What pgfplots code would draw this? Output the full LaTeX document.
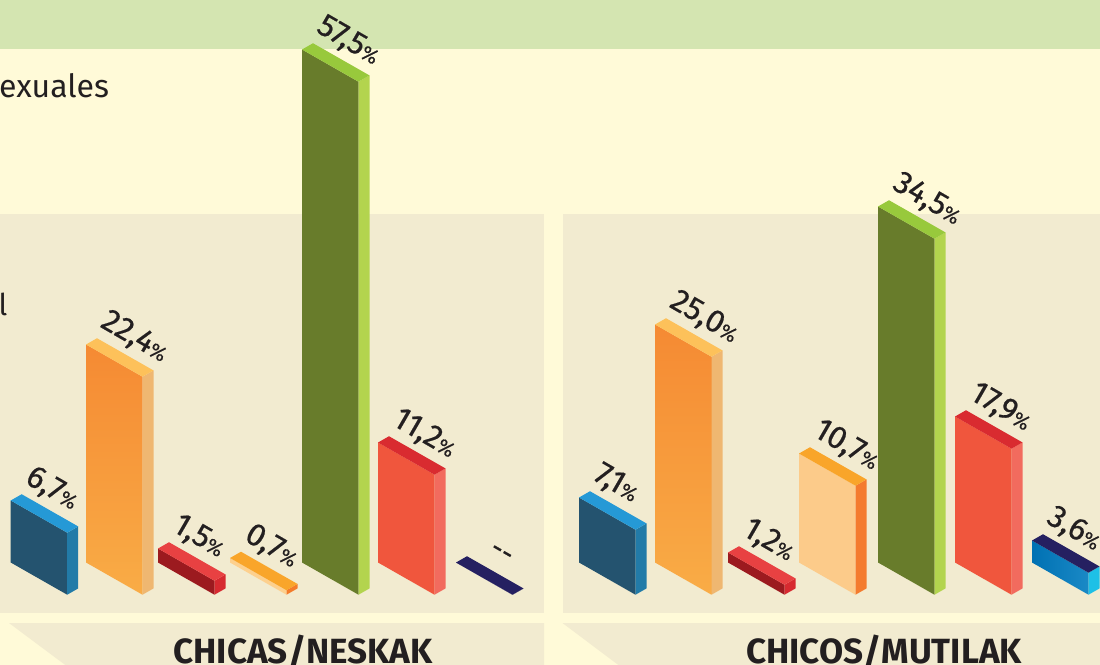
\documentclass[border=0pt]{standalone}
\usepackage{pgfplots}
\pgfplotsset{compat=1.18}
\usepackage{fontspec}
\setmainfont{Fira Sans}
\newfontfamily\labfont{Fira Sans}[FakeBold=0.5]
\definecolor{cream}{HTML}{FFFAD8}
\definecolor{band}{HTML}{D4E5B1}
\definecolor{panel}{HTML}{F2EBD0}
\definecolor{txt}{HTML}{231F20}
\definecolor{blueF}{HTML}{24536F}\definecolor{blueT}{HTML}{2599D6}\definecolor{blueS}{HTML}{227BA8}
\definecolor{orF1}{HTML}{F58A33}\definecolor{orF2}{HTML}{F9AC46}\definecolor{orT}{HTML}{FDC15A}\definecolor{orS}{HTML}{EFB771}
\definecolor{redF}{HTML}{9C1A1F}\definecolor{redT}{HTML}{E84142}\definecolor{redS}{HTML}{D72A30}
\definecolor{or2F}{HTML}{FDD08E}\definecolor{or2T}{HTML}{F9A52A}\definecolor{or2S}{HTML}{F47B2A}
\definecolor{grF}{HTML}{687C2B}\definecolor{grT}{HTML}{98C93C}\definecolor{grS}{HTML}{B3D44E}
\definecolor{rdF}{HTML}{F0563D}\definecolor{rdT}{HTML}{D92B30}\definecolor{rdS}{HTML}{F26B5E}
\definecolor{navy}{HTML}{252061}
\definecolor{ltF}{HTML}{FCCB8A}\definecolor{ltT}{HTML}{F9A52A}\definecolor{ltS}{HTML}{F47B2E}
\definecolor{btF1}{HTML}{0071B3}\definecolor{btF2}{HTML}{1A89C6}\definecolor{btT}{HTML}{252061}\definecolor{btS}{HTML}{1EC0E6}
\newcommand\pct{{\fontsize{20.5bp}{20.5bp}\selectfont\%}}
\tikzset{lab/.style={rotate=-30,anchor=base west,inner sep=0pt,text=txt,font=\labfont\fontsize{32bp}{32bp}\selectfont}}
% geometry of the isometric bars (pixel units)
\def\W{56.5}\def\D{11}\def\T{0.57}\def\B{562.5}
% #1 front-left x, #2 drawn height, #3 front style, #4 top colour, #5 side colour, #6 label
\newcommand\isobar[6]{%
 \pgfmathsetmacro\xa{#1}%
 \pgfmathsetmacro\xb{#1+\W}%
 \pgfmathsetmacro\xc{#1+\W+\D}%
 \pgfmathsetmacro\xd{#1+\D}%
 \pgfmathsetmacro\ya{\B}%
 \pgfmathsetmacro\yb{\B+\W*\T}%
 \pgfmathsetmacro\yc{\B+\W*\T-\D*\T}%
 \pgfmathsetmacro\yat{\B-#2}%
 \pgfmathsetmacro\ybt{\B+\W*\T-#2}%
 \pgfmathsetmacro\yct{\B+\W*\T-\D*\T-#2}%
 \pgfmathsetmacro\ydt{\B-\D*\T-#2}%
 \pgfmathsetmacro\lx{#1+\D+2}%
 \pgfmathsetmacro\ly{\B-\D*\T-#2-12}%
 \edef\tmp{%
  \noexpand\addplot[#3,draw=none] coordinates {(\xa,\ya) (\xb,\yb) (\xb,\ybt) (\xa,\yat)} -- cycle;
  \noexpand\addplot[fill=#5,draw=none] coordinates {(\xb,\yb) (\xc,\yc) (\xc,\yct) (\xb,\ybt)} -- cycle;
  \noexpand\addplot[fill=#4,draw=none] coordinates {(\xa,\yat) (\xb,\ybt) (\xc,\yct) (\xd,\ydt)} -- cycle;
  \noexpand\node[lab] at (axis cs:\lx,\ly) {\unexpanded{#6}};
 }\tmp}
\begin{document}
\begin{tikzpicture}
\useasboundingbox (0,0) rectangle (1100bp,665bp);
\clip (0,0) rectangle (1100bp,665bp);
\begin{axis}[at={(0,0)},anchor=south west,scale only axis,width=1100bp,height=665bp,
  xmin=0,xmax=1100,ymin=0,ymax=665,y dir=reverse,hide axis,clip=false]
% backgrounds
\addplot[fill=cream,draw=none] coordinates {(-5,-5) (1105,-5) (1105,670) (-5,670)} -- cycle;
\addplot[fill=band,draw=none] coordinates {(-5,-5) (1105,-5) (1105,49) (-5,49)} -- cycle;
\addplot[fill=panel,draw=none] coordinates {(-5,214) (544,214) (544,612.5) (-5,612.5)} -- cycle;
\addplot[fill=panel,draw=none] coordinates {(562.5,213.5) (1105,213.5) (1105,612.5) (562.5,612.5)} -- cycle;
\addplot[fill=panel,draw=none] coordinates {(9,623) (544,623) (544,670) (72,670)} -- cycle;
\addplot[fill=panel,draw=none] coordinates {(562.5,623) (1105,623) (1105,670) (625,670)} -- cycle;
% CHICAS / NESKAK
\isobar{10.7}{62}{fill=blueF}{blueT}{blueS}{6,7\pct}
\isobar{86}{218}{top color=orF1,bottom color=orF2}{orT}{orS}{22,4\pct}
\isobar{158}{14}{fill=redF}{redT}{redS}{1,5\pct}
\isobar{230}{4.5}{fill=or2F}{or2T}{or2S}{0,7\pct}
\isobar{302}{513}{fill=grF}{grT}{grS}{57,5\pct}
\isobar{378}{120}{fill=rdF}{rdT}{rdS}{11,2\pct}
\isobar{456}{0}{fill=navy}{navy}{navy}{}
\node[lab,font=\labfont\fontsize{28bp}{28bp}\selectfont] at (axis cs:488,553) {-{}-};
% CHICOS / MUTILAK
\isobar{579}{65}{fill=blueF}{blueT}{blueS}{7,1\pct}
\isobar{655}{238}{top color=orF1,bottom color=orF2}{orT}{orS}{25,0\pct}
\isobar{728}{10}{fill=redF}{redT}{redS}{1,2\pct}
\isobar{799}{109}{fill=ltF}{ltT}{ltS}{10,7\pct}
\isobar{878}{356}{fill=grF}{grT}{grS}{34,5\pct}
\isobar{955}{146}{fill=rdF}{rdT}{rdS}{17,9\pct}
\isobar{1032}{22}{left color=btF1,right color=btF2}{btT}{btS}{3,6\pct}
% texts
\node[anchor=base west,inner sep=0pt,text=txt,font=\fontsize{32bp}{32bp}\selectfont] at (axis cs:-1,97) {exuales};
\node[anchor=base west,inner sep=0pt,text=txt,font=\fontsize{30bp}{30bp}\selectfont] at (axis cs:-1.5,315) {l};
\node[anchor=base,inner sep=0pt,text=txt,font=\fontsize{35bp}{35bp}\selectfont\bfseries] at (axis cs:303,663) {CHICAS/NESKAK};
\node[anchor=base,inner sep=0pt,text=txt,font=\fontsize{35bp}{35bp}\selectfont\bfseries] at (axis cs:884,663) {CHICOS/MUTILAK};
\end{axis}
\end{tikzpicture}
\end{document}
